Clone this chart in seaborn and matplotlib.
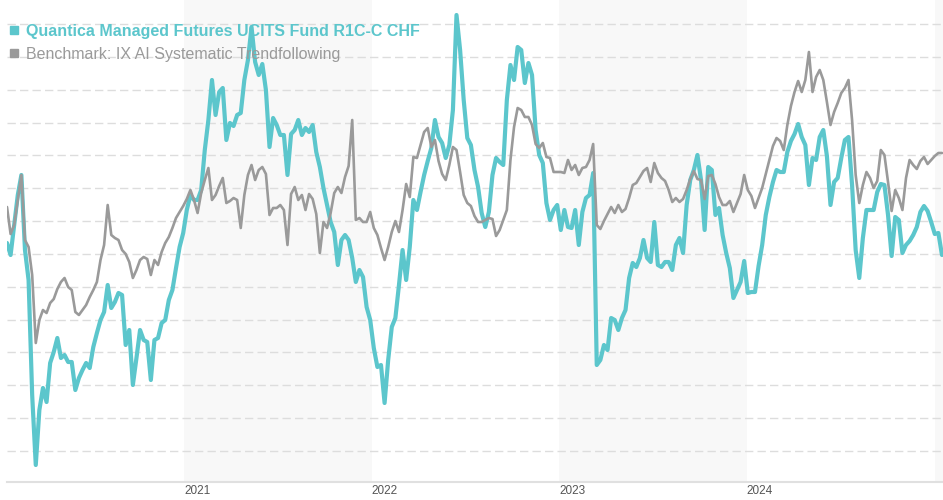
"""
Quantica Managed Futures UCITS Fund vs benchmark - performance line chart
"""

import matplotlib
matplotlib.use("Agg")  # no display
import matplotlib.pyplot as plt
from matplotlib.lines import Line2D
import numpy as np
import pandas as pd
import seaborn as sns

# ============================================================
# DATA (weekly levels)
# ============================================================

FUND_LABEL = "Quantica Managed Futures UCITS Fund R1C-C CHF"
BENCH_LABEL = "Benchmark: IX AI Systematic Trendfollowing"
FUND_COLOR = "#5cc6cc"
BENCH_COLOR = "#9a9a9a"

dates = pd.date_range("2020-01-22", periods=261, freq="7D")

fund = [
    257, 245, 275, 305, 325, 250, 220, 105, 35, 90,
    112, 98, 137, 148, 162, 142, 145, 138, 138, 110,
    122, 130, 137, 132, 153, 167, 180, 188, 215, 192,
    198, 207, 205, 155, 170, 115, 142, 170, 160, 158,
    120, 160, 162, 177, 180, 200, 210, 232, 253, 267,
    290, 305, 300, 300, 310, 350, 380, 420, 385, 408,
    412, 360, 377, 374, 385, 387, 420, 440, 473, 438,
    425, 436, 410, 353, 382, 375, 365, 365, 325, 366,
    370, 380, 365, 372, 368, 375, 348, 333, 312, 295,
    278, 268, 235, 260, 265, 260, 242, 218, 230, 223,
    193, 180, 152, 133, 135, 97, 140, 173, 182, 215,
    250, 220, 253, 300, 290, 308, 325, 339, 352, 380,
    363, 357, 342, 355, 390, 485, 450, 400, 362, 355,
    330, 313, 287, 273, 288, 325, 342, 338, 335, 400,
    435, 420, 453, 450, 417, 437, 425, 370, 345, 337,
    297, 280, 290, 295, 270, 290, 273, 272, 290, 255,
    288, 302, 305, 327, 135, 140, 155, 150, 182, 180,
    170, 182, 190, 222, 237, 233, 242, 260, 242, 238,
    278, 235, 233, 238, 238, 230, 255, 262, 247, 295,
    320, 330, 345, 320, 270, 333, 330, 285, 292, 265,
    247, 232, 202, 210, 218, 239, 207, 208, 208, 234,
    255, 285, 303, 318, 330, 328, 328, 348, 359, 366,
    376, 363, 355, 315, 342, 340, 363, 370, 344, 295,
    318, 322, 342, 360, 363, 315, 250, 222, 262, 290,
    290, 290, 308, 316, 315, 285, 244, 283, 280, 247,
    255, 259, 265, 273, 288, 294, 289, 278, 266, 267, 245,
]

bench = [
    293, 266, 275, 300, 325, 260, 253, 225, 157, 180,
    190, 187, 197, 201, 211, 218, 222, 213, 210, 188,
    185, 190, 195, 203, 210, 218, 240, 255, 295, 265,
    262, 260, 250, 246, 238, 222, 230, 240, 243, 241,
    225, 240, 235, 248, 257, 263, 272, 282, 288, 294,
    301, 310, 300, 287, 307, 320, 332, 300, 305, 314,
    322, 297, 299, 302, 300, 272, 305, 325, 335, 320,
    330, 333, 326, 285, 292, 292, 295, 290, 255, 306,
    313, 300, 305, 290, 306, 301, 286, 247, 278, 272,
    287, 307, 313, 307, 323, 334, 380, 280, 282, 278,
    278, 288, 272, 265, 252, 240, 253, 268, 279, 268,
    290, 316, 303, 343, 342, 355, 368, 372, 353, 360,
    339, 326, 320, 335, 353, 350, 328, 305, 297, 294,
    284, 278, 278, 280, 282, 281, 264, 270, 280, 290,
    340, 373, 392, 390, 383, 383, 375, 356, 352, 357,
    343, 342, 328, 328, 328, 327, 340, 330, 335, 325,
    332, 333, 340, 356, 275, 271, 279, 286, 293, 287,
    295, 288, 291, 302, 315, 317, 323, 329, 332, 318,
    337, 327, 322, 319, 310, 298, 302, 298, 301, 310,
    321, 329, 321, 320, 301, 324, 325, 316, 303, 295,
    295, 299, 288, 297, 306, 325, 310, 304, 292, 302,
    312, 326, 340, 354, 362, 359, 350, 375, 394, 408,
    419, 408, 420, 448, 408, 423, 430, 420, 398, 375,
    388, 397, 407, 412, 420, 380, 325, 297, 315, 328,
    322, 312, 319, 350, 345, 318, 289, 310, 302, 290,
    322, 340, 335, 331, 339, 343, 336, 340, 344, 347, 347,
]

year_ticks = pd.to_datetime(["2021-01-01", "2022-01-01", "2023-01-01", "2024-01-01"])
year_labels = ["2021", "2022", "2023", "2024"]
shaded_years = [2021, 2023, 2025]

df = pd.DataFrame({"date": dates, "fund": fund, "bench": bench})

# ============================================================
# PLOT
# ============================================================

sns.set_theme(style="white")
plt.rcParams["font.family"] = ["Liberation Sans", "DejaVu Sans"]

fig = plt.figure(figsize=(9.43, 5.0), dpi=100)
ax = fig.add_axes([7 / 943, 18 / 500, 936 / 943, 482 / 500])

x_start = pd.Timestamp("2020-01-22")
x_end = pd.Timestamp("2025-01-17")

# alternating year bands
for yr in shaded_years:
    ax.axvspan(pd.Timestamp(f"{yr}-01-01"), min(pd.Timestamp(f"{yr + 1}-01-01"), x_end),
               color="#f8f8f8", lw=0, zorder=0)

# dashed horizontal grid
for level in np.linspace(49, 476, 14):
    ax.axhline(level, color="#dddddd", lw=1, linestyle=(0, (6, 3)), zorder=1)

sns.lineplot(data=df, x="date", y="fund", ax=ax, color=FUND_COLOR, lw=3.0, zorder=3)
sns.lineplot(data=df, x="date", y="bench", ax=ax, color=BENCH_COLOR, lw=1.9, zorder=4)

ax.set_xlim(x_start, x_end)
ax.set_ylim(18, 500)
ax.set_xlabel("")
ax.set_ylabel("")
ax.set_yticks([])
ax.set_xticks(year_ticks)
ax.set_xticklabels(year_labels, ha="left", color="#555555", fontsize=8.5,
                   family=["Liberation Sans Narrow", "Liberation Sans"])
ax.tick_params(axis="x", length=0, pad=2)

for side in ["top", "left", "right"]:
    ax.spines[side].set_visible(False)
ax.spines["bottom"].set_color("#e0e0e0")
ax.spines["bottom"].set_linewidth(1.5)

# legend with square markers
handles = [
    Line2D([], [], marker="s", ls="none", color=FUND_COLOR, markersize=6),
    Line2D([], [], marker="s", ls="none", color=BENCH_COLOR, markersize=6),
]
leg = ax.legend(handles, [FUND_LABEL, BENCH_LABEL], loc="upper left",
                bbox_to_anchor=(0.001, 0.951), frameon=False, fontsize=11.5,
                handlelength=0.7, handletextpad=0.45, labelspacing=0.52,
                borderaxespad=0, borderpad=0)
leg.get_texts()[0].set_color(FUND_COLOR)
leg.get_texts()[0].set_fontweight("bold")
leg.get_texts()[1].set_color("#9a9a9a")

fig.savefig("out.png", dpi=100)
print("Saved: out.png")
